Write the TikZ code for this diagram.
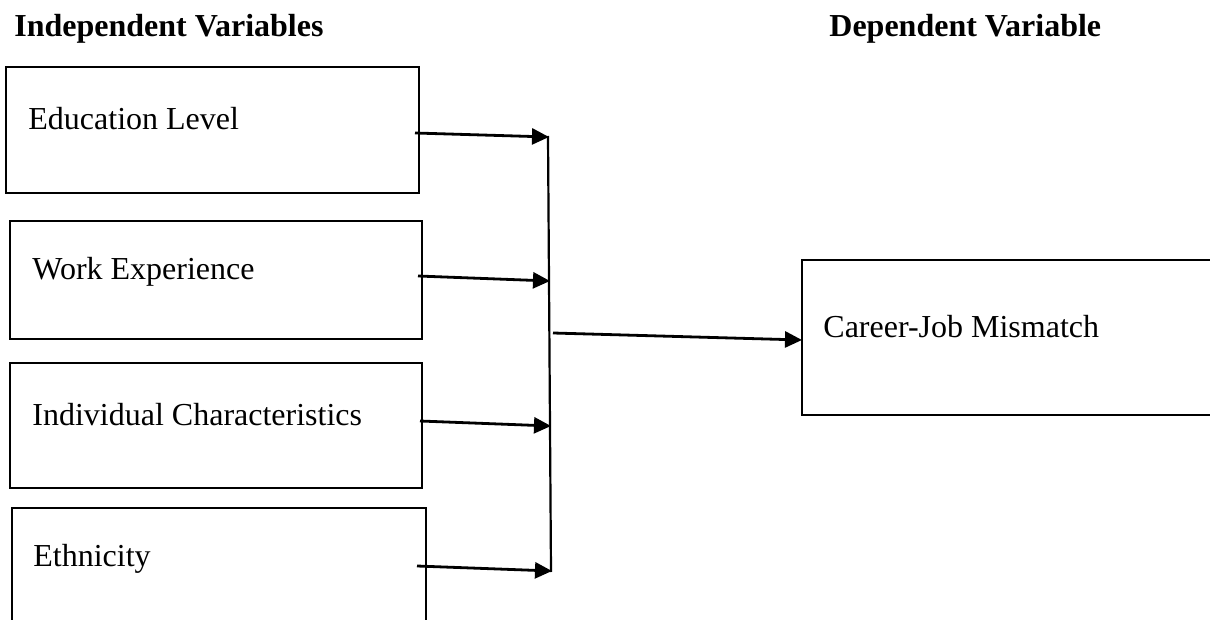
\documentclass[tikz,border=0pt]{standalone}
\usepackage{fontspec}
\setmainfont{Liberation Serif}
\usetikzlibrary{arrows.meta}
\tikzset{
  varbox/.style={draw=black, line width=1.3pt, fill=none},
  lbl/.style={anchor=base west, inner sep=0pt, font=\fontsize{16}{19}\selectfont},
  head/.style={anchor=base west, inner sep=0pt, font=\fontsize{16}{19}\selectfont\bfseries},
  link/.style={line width=1.4pt, -{Triangle[length=8.5pt,width=8pt]}},
  bus/.style={line width=1.1pt}
}
\begin{document}
\begin{tikzpicture}[x=0.5pt,y=-0.5pt]
\useasboundingbox (0,0) rectangle (1210,620);
\clip (0,0) rectangle (1210,620);
% headings
\node[head] (hin) at (14,37) {Independent Variables};
\node[head] (hdep) at (829,37) {Dependent Variable};
% boxes
\draw[varbox] (6,67) rectangle (419,193);
\node[inner sep=0pt, minimum size=0pt] (b1) at (212,130) {};
\draw[varbox] (10,221) rectangle (422,339);
\node[inner sep=0pt, minimum size=0pt] (b2) at (216,280) {};
\draw[varbox] (10,363) rectangle (422,488);
\node[inner sep=0pt, minimum size=0pt] (b3) at (216,425) {};
\draw[varbox] (12,508) rectangle (426,640);
\node[inner sep=0pt, minimum size=0pt] (b4) at (219,570) {};
\draw[varbox] (802,260) rectangle (1230,415);
\node[inner sep=0pt, minimum size=0pt] (bd) at (1010,337) {};
% labels
\node[lbl] (t1) at (28,130) {Education Level};
\node[lbl] (t2) at (32,280) {Work Experience};
\node[lbl] (t3) at (32,425) {Individual Characteristics};
\node[lbl] (t4) at (33,566) {Ethnicity};
\node[lbl] (td) at (823,337) {Career-Job Mismatch};
% connector coordinates
\coordinate (s1) at (415,133);
\coordinate (e1) at (549,137);
\coordinate (s2) at (418,276);
\coordinate (e2) at (550,281);
\coordinate (s3) at (420,421);
\coordinate (e3) at (551,426);
\coordinate (s4) at (417,566);
\coordinate (e4) at (552,571);
\coordinate (vtop) at (548,136);
\coordinate (vbot) at (551,572);
\coordinate (hs) at (553,333);
\coordinate (he) at (802,340);
% connectors
\draw[bus] (vtop) -- (vbot);
\draw[link] (s1) -- (e1);
\draw[link] (s2) -- (e2);
\draw[link] (s3) -- (e3);
\draw[link] (s4) -- (e4);
\draw[link] (hs) -- (he);
\end{tikzpicture}
\end{document}
